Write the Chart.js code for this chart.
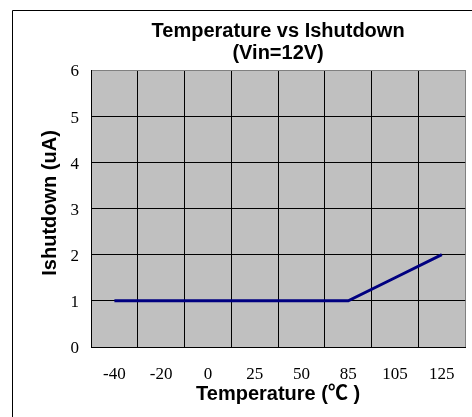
<!DOCTYPE html>
<html>
<head>
<meta charset="utf-8">
<script src="https://cdn.jsdelivr.net/npm/chart.js@4"></script>
<style>
  body { margin: 0; background: #fff; }
  #wrap { width: 472px; height: 417px; position: relative; }
</style>
</head>
<body>
<div id="wrap"><canvas id="tempChart"></canvas></div>
<script>
// data
const temperatures = ['-40', '-20', '0', '25', '50', '85', '105', '125'];
const ishutdown = [1, 1, 1, 1, 1, 1, 1.5, 2];
const yMin = 0, yMax = 6, yStep = 1;

const titleFont = { family: '"Liberation Sans", "Noto Sans CJK SC"', size: 20, weight: 'bold' };
const tickFont = { family: 'Liberation Serif', size: 17 };

// grey plot background + the outer frame lines
const frame = {
    id: 'frame',
    beforeDraw(chart) {
        const { ctx, chartArea: a } = chart;
        ctx.save();
        ctx.fillStyle = '#c0c0c0';
        ctx.fillRect(a.left, a.top, a.right - a.left, a.bottom - a.top);
        ctx.strokeStyle = '#000';
        ctx.lineWidth = 1;
        ctx.beginPath();
        ctx.moveTo(12.5, chart.height);
        ctx.lineTo(12.5, 10.5);
        ctx.lineTo(chart.width, 10.5);
        ctx.stroke();
        ctx.restore();
    }
};

new Chart(document.getElementById('tempChart'), {
    type: 'line',
    data: {
        labels: temperatures,
        datasets: [{
            data: ishutdown,
            borderColor: '#000080',
            borderWidth: 3,
            pointRadius: 0,
            tension: 0
        }]
    },
    options: {
        responsive: true,
        maintainAspectRatio: false,
        animation: false,
        layout: { padding: { top: 0, right: 6, bottom: 0, left: 0 } },
        plugins: {
            legend: { display: false },
            tooltip: { enabled: false },
            title: {
                display: true,
                fullSize: false,
                text: ['Temperature vs Ishutdown', '(Vin=12V)'],
                color: '#000',
                font: { ...titleFont, lineHeight: 1.1 },
                padding: { top: 20, bottom: 6 }
            }
        },
        scales: {
            x: {
                offset: true,
                grid: {
                    offset: true,
                    drawTicks: false,
                    color: c => (c.tick ? '#000' : '#808080')
                },
                border: { color: '#000' },
                ticks: { color: '#000', font: tickFont, padding: 17, maxRotation: 0 },
                title: {
                    display: true,
                    text: 'Temperature (℃ )',
                    color: '#000',
                    font: titleFont,
                    padding: { top: 0, bottom: 11 }
                },
                afterFit(scale) { scale.height = 70; }
            },
            y: {
                min: yMin,
                max: yMax,
                grid: {
                    drawTicks: false,
                    color: c => (c.tick && c.tick.value === yMax ? '#808080' : '#000')
                },
                border: { color: '#000' },
                ticks: { stepSize: yStep, color: '#000', font: tickFont, padding: 12, labelOffset: 2 },
                title: {
                    display: true,
                    text: '  Ishutdown (uA)',
                    color: '#000',
                    font: titleFont,
                    padding: { top: 38, bottom: 0 }
                },
                afterFit(scale) { scale.width = 91; }
            }
        }
    },
    plugins: [frame]
});
</script>
</body>
</html>
